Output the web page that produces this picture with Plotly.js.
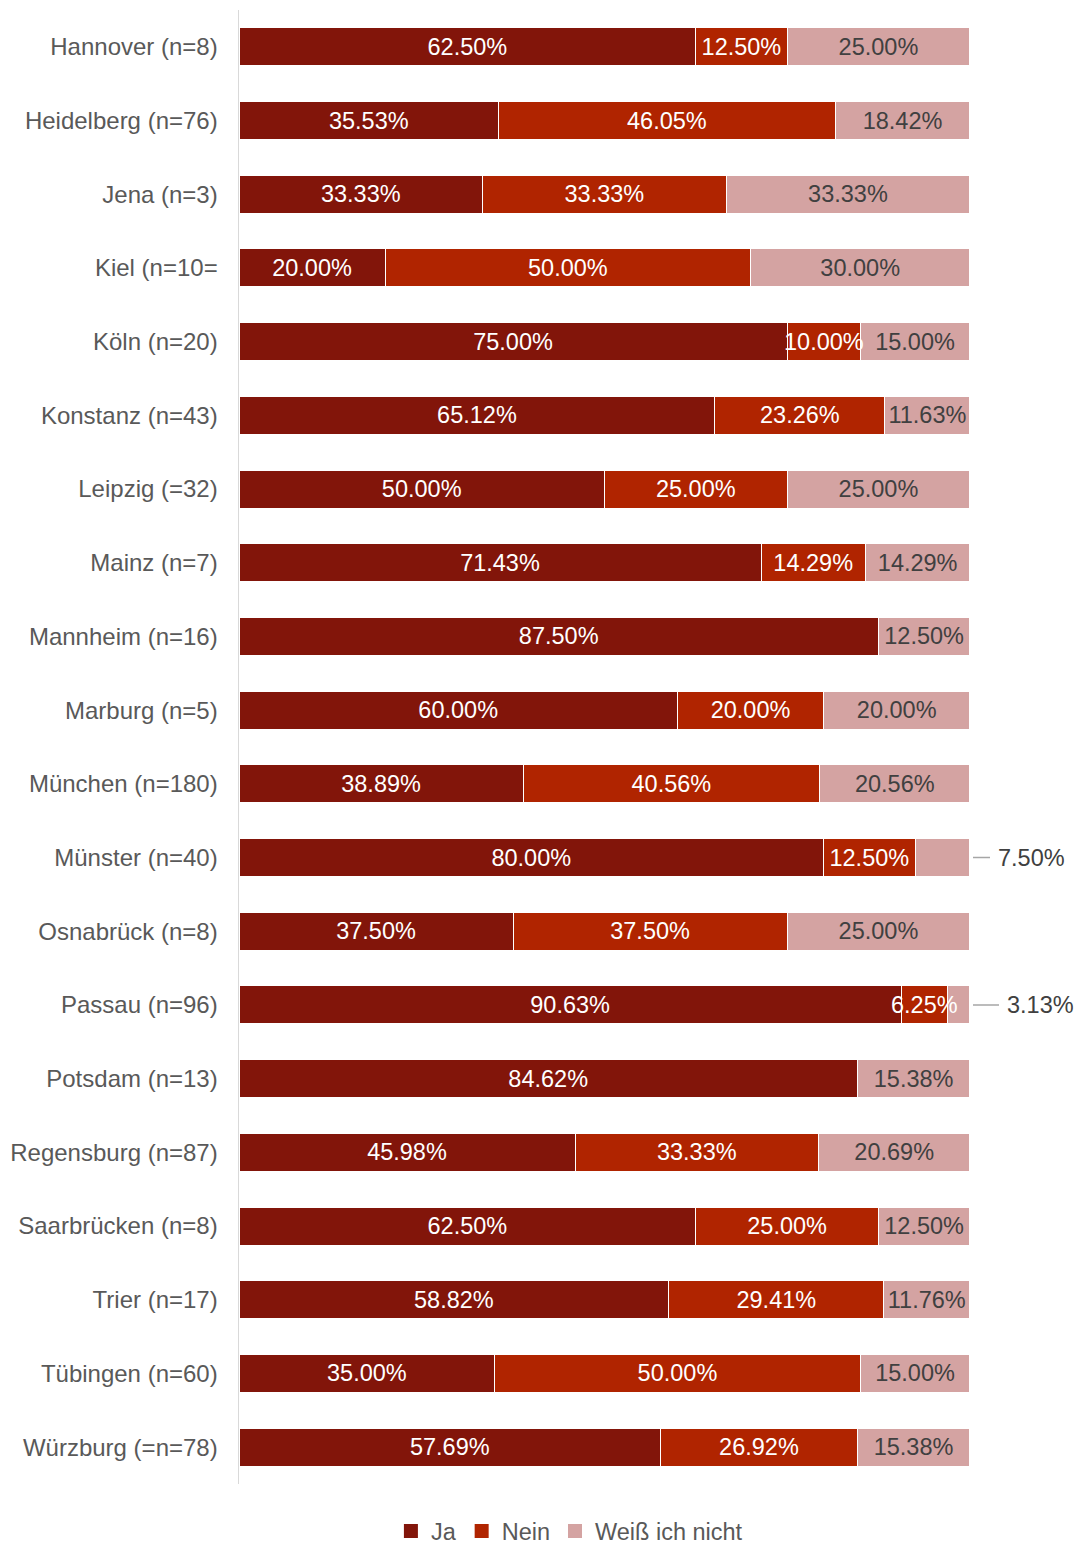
<!DOCTYPE html>
<html>
<head>
<meta charset="utf-8">
<script src="https://cdn.plot.ly/plotly-3.0.1.min.js"></script>
<style>
  html, body { margin: 0; padding: 0; background: #fff; }
  #chart { width: 1076px; height: 1546px; }
</style>
</head>
<body>
<div id="chart"></div>
<script>
// Universities with sample size, top to bottom
const categories = [
  'Hannover (n=8)', 'Heidelberg (n=76)', 'Jena (n=3)', 'Kiel (n=10=',
  'Köln (n=20)', 'Konstanz (n=43)', 'Leipzig (=32)', 'Mainz (n=7)',
  'Mannheim (n=16)', 'Marburg (n=5)', 'München (n=180)', 'Münster (n=40)',
  'Osnabrück (n=8)', 'Passau (n=96)', 'Potsdam (n=13)', 'Regensburg (n=87)',
  'Saarbrücken (n=8)', 'Trier (n=17)', 'Tübingen (n=60)', 'Würzburg (=n=78)'
];

// Answer shares in percent
const ja = [62.50, 35.53, 33.33, 20.00, 75.00, 65.12, 50.00, 71.43, 87.50, 60.00,
            38.89, 80.00, 37.50, 90.63, 84.62, 45.98, 62.50, 58.82, 35.00, 57.69];
const nein = [12.50, 46.05, 33.33, 50.00, 10.00, 23.26, 25.00, 14.29, 0, 20.00,
              40.56, 12.50, 37.50, 6.25, 0, 33.33, 25.00, 29.41, 50.00, 26.92];
const weissNicht = [25.00, 18.42, 33.33, 30.00, 15.00, 11.63, 25.00, 14.29, 12.50, 20.00,
                    20.56, 7.50, 25.00, 3.13, 15.38, 20.69, 12.50, 11.76, 15.00, 15.38];

const seriesNames = ['Ja', 'Nein', 'Weiß ich nicht'];

// Segments too narrow for an inside label: the last series gets a callout
// to the right, the others get a label laid over the neighbouring bar.
const calloutRows = ['Münster (n=40)', 'Passau (n=96)'];
const NARROW = 10.5;

const FONT = 'Liberation Sans, Arial, Helvetica, sans-serif';
const FS = 23.5;
const colors = ['#82150a', '#b02400', '#d4a3a2'];
const labelColors = ['#ffffff', '#ffffff', '#404040'];

const fmt = v => v.toFixed(2) + '%';

const seriesValues = [ja, nein, weissNicht];
const traces = seriesValues.map((vals, i) => ({
  type: 'bar',
  orientation: 'h',
  name: seriesNames[i],
  showlegend: false,
  y: categories,
  x: vals,
  text: vals.map((v, k) => {
    if (v === 0) return '';
    if (i === 2 && calloutRows.includes(categories[k])) return '';
    if (i < 2 && v < NARROW) return '';
    return fmt(v);
  }),
  textposition: 'inside',
  insidetextanchor: 'middle',
  constraintext: 'none',
  textangle: 0,
  textfont: { family: FONT, size: FS, color: labelColors[i] },
  marker: { color: colors[i], line: { color: '#ffffff', width: 1 } },
  hoverinfo: 'skip',
  cliponaxis: false
}));

// Legend entries with solid square keys
seriesNames.forEach((name, i) => {
  traces.push({
    type: 'scatter',
    mode: 'markers',
    name: name,
    x: [null],
    y: [null],
    marker: { symbol: 'square', size: 14, color: colors[i] },
    hoverinfo: 'skip'
  });
});

const annotations = [];

// Overflowing labels centred on their own segment, drawn above all bars
seriesValues.slice(0, 2).forEach((vals, i) => {
  vals.forEach((v, k) => {
    if (v > 0 && v < NARROW) {
      let start = 0;
      for (let s = 0; s < i; s++) start += seriesValues[s][k];
      annotations.push({
        xref: 'x', yref: 'y',
        x: start + v / 2, y: categories[k],
        text: fmt(v),
        showarrow: false,
        xanchor: 'center', yanchor: 'middle',
        font: { family: FONT, size: FS, color: labelColors[i] }
      });
    }
  });
});

// Callouts for the thinnest last segments
calloutRows.forEach((row, j) => {
  const k = categories.indexOf(row);
  annotations.push({
    xref: 'paper', yref: 'y',
    x: 1, y: row,
    text: fmt(weissNicht[k]),
    showarrow: true,
    arrowhead: 0,
    arrowwidth: 1.5,
    arrowcolor: '#a6a6a6',
    ax: j === 0 ? 61 : 70,
    ay: 0,
    standoff: 3,
    borderpad: 7,
    font: { family: FONT, size: FS, color: '#404040' }
  });
});

const layout = {
  width: 1076,
  height: 1546,
  margin: { l: 239, r: 106, t: 10, b: 62, autoexpand: false },
  paper_bgcolor: '#ffffff',
  plot_bgcolor: '#ffffff',
  barmode: 'stack',
  bargap: 0.484,
  showlegend: true,
  font: { family: FONT, size: FS, color: '#595959' },
  xaxis: {
    range: [0, 100.02],
    visible: false,
    fixedrange: true
  },
  yaxis: {
    type: 'category',
    autorange: 'reversed',
    showline: true,
    linecolor: '#d9d9d9',
    linewidth: 1.5,
    showgrid: false,
    zeroline: false,
    ticks: '',
    ticklabelstandoff: 15,
    tickfont: { family: FONT, size: 24, color: '#595959' },
    fixedrange: true
  },
  legend: {
    orientation: 'h',
    x: 0.452,
    xanchor: 'center',
    y: -0.032,
    yanchor: 'middle',
    font: { family: FONT, size: FS, color: '#595959' },
    itemwidth: 30,
    traceorder: 'normal'
  },
  annotations: annotations
};

Plotly.newPlot('chart', traces, layout, { displayModeBar: false, staticPlot: true });
</script>
</body>
</html>
